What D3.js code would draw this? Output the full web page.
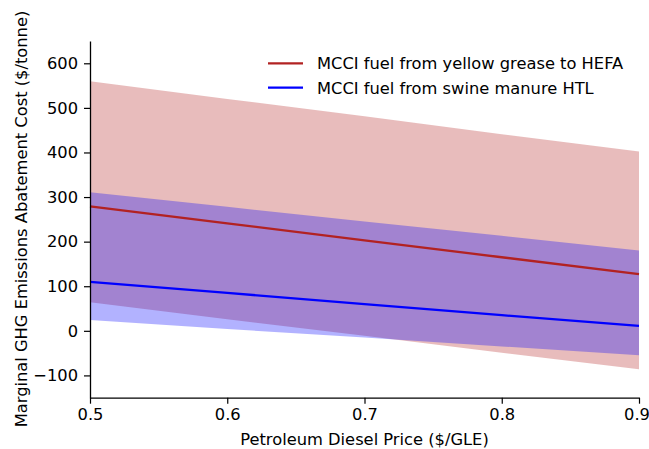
<!DOCTYPE html>
<html><head><meta charset="utf-8">
<script src="https://cdn.jsdelivr.net/npm/d3@7"></script>
<style>
body{margin:0;background:#fff;}
text{font-family:"DejaVu Sans",sans-serif;}
</style></head>
<body><svg id="c" width="649" height="449"></svg>
<script>
const price = [0.5, 0.6, 0.7, 0.8, 0.9];
const hefaMid = [279, 241, 203, 165, 127];
const hefaLow = [64, 26, -11, -49, -86];
const hefaHigh = [560, 520, 481, 441, 402];
const htlMid = [110, 85, 60, 35, 11];
const htlLow = [24, 4, -15, -35, -55];
const htlHigh = [311, 278, 245, 213, 180];
const xTicks = [0.5, 0.6, 0.7, 0.8, 0.9];
const yTicks = [-100, 0, 100, 200, 300, 400, 500, 600];
const seriesNames = ["MCCI fuel from yellow grease to HEFA", "MCCI fuel from swine manure HTL"];
const xLabel = "Petroleum Diesel Price ($/GLE)";
const yLabel = "Marginal GHG Emissions Abatement Cost ($/tonne)";

const FS = 16.3;
const svg = d3.select("#c");
svg.append("rect").attr("width",649).attr("height",449).attr("fill","#fff");
const x = d3.scaleLinear().domain([0.5,0.9]).range([90,639]);
const y = d3.scaleLinear().domain([-150,650]).range([397.7,41]);

const series = [
  {name:seriesNames[0], mid:hefaMid, lo:hefaLow, hi:hefaHigh, color:"#b22222", fill:"rgba(178,34,34,0.3)"},
  {name:seriesNames[1], mid:htlMid, lo:htlLow, hi:htlHigh, color:"#0000ff", fill:"rgba(0,0,255,0.3)"}
];
const area = d3.area().x((d,i)=>x(price[i])).y0(d=>y(d[0])).y1(d=>y(d[1]));
const line = d3.line().x((d,i)=>x(price[i])).y(d=>y(d));
series.forEach(s=>{
  svg.append("path").datum(s.lo.map((v,i)=>[v,s.hi[i]])).attr("d",area).attr("fill",s.fill);
});
series.forEach(s=>{
  svg.append("path").datum(s.mid).attr("d",line).attr("fill","none").attr("stroke",s.color).attr("stroke-width",2.3);
});

const gx = svg.append("g").attr("transform","translate(0,397.7)")
  .call(d3.axisBottom(x).tickValues(xTicks).tickFormat(d3.format(".1f")).tickSize(6).tickSizeOuter(0).tickPadding(5));
const gy = svg.append("g").attr("transform","translate(90,0)")
  .call(d3.axisLeft(y).tickValues(yTicks).tickFormat(d=>d<0?"\u2212"+Math.abs(d):d).tickSize(6).tickSizeOuter(0).tickPadding(6));
[gx,gy].forEach(g=>{
  g.selectAll("text").attr("font-size",FS).attr("font-family","DejaVu Sans").attr("fill","#000");
  g.selectAll("line").attr("stroke","#000").attr("stroke-width",1.2);
  g.select(".domain").attr("stroke","#000").attr("stroke-width",1.3);
});
// last x tick label nudged left so it stays inside the picture, as in the reference
gx.selectAll(".tick text").filter(d=>d===0.9).attr("dx",-2.5);

svg.append("text").attr("x",364.5).attr("y",445).attr("text-anchor","middle").attr("font-size",FS).text(xLabel);
svg.append("text").attr("transform","translate(27,219) rotate(-90)").attr("text-anchor","middle").attr("font-size",FS).text(yLabel);

const leg = [63.3, 87.7];
series.forEach((s,i)=>{
  svg.append("line").attr("x1",268).attr("x2",303).attr("y1",leg[i]).attr("y2",leg[i]).attr("stroke",s.color).attr("stroke-width",2.3);
  svg.append("text").attr("x",317).attr("y",leg[i]+5.9).attr("font-size",FS).text(s.name);
});
</script></body></html>
